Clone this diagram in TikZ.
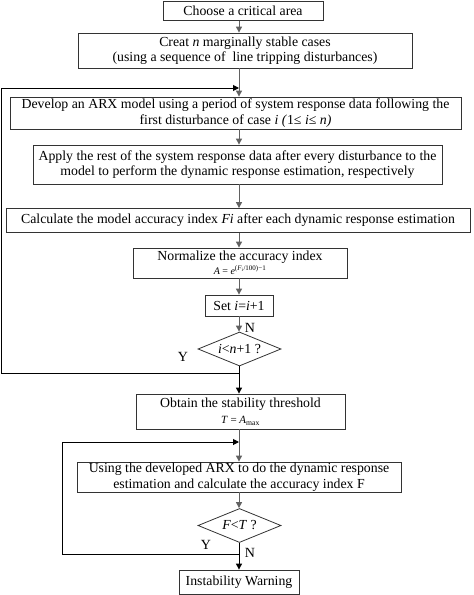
\documentclass[tikz,border=0pt]{standalone}
\usepackage{fontspec}
\setmainfont{Liberation Serif}
\usetikzlibrary{shapes.geometric,arrows.meta}
\tikzset{
  box/.style={draw=black!80, line width=0.8pt, inner sep=0pt, align=center, font=\fontsize{13.8}{15.5}\selectfont},
  dia/.style={draw=black!80, line width=0.8pt, diamond, shape aspect=2.44, inner sep=0pt, minimum width=83pt, minimum height=34pt, font=\fontsize{13.8}{15.5}\selectfont},
  arr/.style={draw=black!62, line width=1pt, -{Triangle[length=6pt,width=6pt]}},
  fb/.style={draw=black, line width=1pt, -{Triangle[length=6pt,width=6pt]}},
  lbl/.style={font=\fontsize{14}{15}\selectfont, inner sep=0pt}
}
\begin{document}
\begin{tikzpicture}[x=1pt,y=1pt]
\useasboundingbox (0,0) rectangle (474,-595);
\coordinate (ax) at (239,0);
\node[box, minimum width=160pt, minimum height=19pt] (b1) at (243,-11) {Choose a critical area};
\node[box, minimum width=334pt, minimum height=35pt] (b2) at (245,-50.5) {Creat \textit{n} marginally stable cases\\(using a sequence of \ line tripping disturbances)};
\node[box, minimum width=451pt, minimum height=32pt] (b3) at (235.5,-113) {Develop an ARX model using a period of system response data following the\\first disturbance of case \textit{i (}1≤ \textit{i}≤ \textit{n)}};
\node[box, minimum width=409pt, minimum height=39pt] (b4) at (237.5,-164.5) {Apply the rest of the system response data after every disturbance to the\\model to perform the dynamic response estimation, respectively};
\node[box, minimum width=464pt, minimum height=24pt] (b5) at (238,-220.5) {Calculate the model accuracy index \textit{Fi} after each dynamic response estimation};
\node[box, minimum width=214pt, minimum height=30pt] (b6) at (240,-263) {Normalize the accuracy index\\[-2pt]{\fontsize{10}{10}\selectfont\textit{A} = \textit{e}\textsuperscript{(\textit{F}\textsubscript{i}/100)−1}}};
\node[box, minimum width=68pt, minimum height=21pt] (set) at (239,-305.5) {Set \textit{i}=\textit{i}+1};
\node[dia] (d1) at (239.5,-349) {\textit{i}<\textit{n}+1 ?};
\node[box, minimum width=209pt, minimum height=35pt] (ob) at (240.5,-411.5) {Obtain the stability threshold\\[1pt]{\fontsize{11}{11}\selectfont\textit{T} = \textit{A}\textsubscript{max}}};
\node[box, minimum width=324pt, minimum height=30pt] (us) at (239,-477) {Using the developed ARX to do the dynamic response\\estimation and calculate the accuracy index F};
\node[dia] (d2) at (239.5,-525.5) {\textit{F}<\textit{T} ?};
\node[box, minimum width=120pt, minimum height=24pt] (inst) at (239,-582) {Instability Warning};
\draw[arr] (b1.south -| ax) -- (b2.north -| ax);
\draw[arr] (b2.south -| ax) -- (b3.north -| ax);
\draw[arr] (b3.south -| ax) -- (b4.north -| ax);
\draw[arr] (b4.south -| ax) -- (b5.north -| ax);
\draw[arr] (b5.south -| ax) -- (b6.north -| ax);
\draw[arr] (b6.south -| ax) -- (set.north -| ax);
\draw[arr] (set.south -| ax) -- (d1.north -| ax);
\draw[fb] (d1.south -| ax) -- (ob.north -| ax);
\draw[arr] (ob.south -| ax) -- (us.north -| ax);
\draw[arr] (us.south -| ax) -- (d2.north -| ax);
\draw[fb] (d2.south -| ax) -- (inst.north -| ax);
\coordinate (j1) at (239,-373);
\coordinate (k1) at (239,-88);
\draw[fb] (j1) -- (1,-373) |- (k1);
\coordinate (j2) at (239,-554);
\coordinate (k2) at (239,-442);
\draw[fb] (j2) -- (62,-554) |- (k2);
\node[lbl] (y1) at (183,-357) {Y};
\node[lbl] (n1) at (250,-328) {N};
\node[lbl] (y2) at (206,-545) {Y};
\node[lbl] (n2) at (250,-553) {N};
\end{tikzpicture}
\end{document}
